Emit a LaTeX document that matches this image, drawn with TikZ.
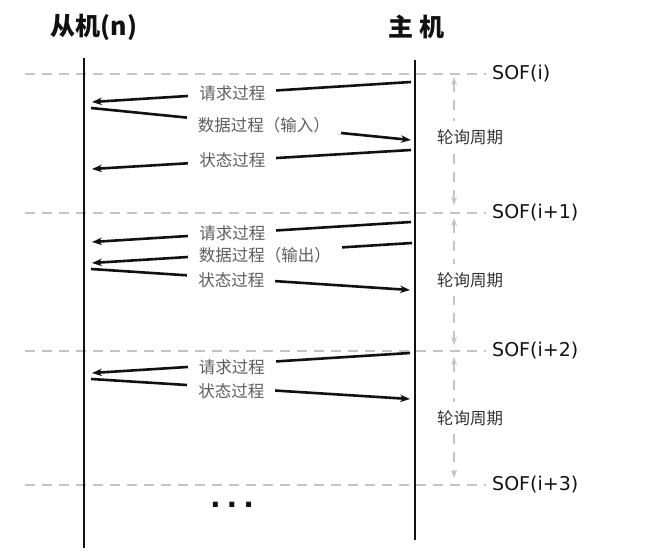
\documentclass[tikz,border=0pt]{standalone}
\usepackage{fontspec}
\usetikzlibrary{positioning, arrows.meta}
\setmainfont{Noto Sans CJK SC}
\newfontfamily\latin{DejaVu Sans}
\definecolor{ink}{HTML}{111111}
\definecolor{muted}{HTML}{5E5E5E}
\definecolor{linegray}{HTML}{C4C4C4}
\tikzset{
  head/.style={font=\bfseries\fontsize{25}{28}\selectfont, text=ink, inner sep=0pt},
  life/.style={line width=2.4pt, color=ink},
  msg/.style={-{Stealth[length=10pt, width=7.5pt]}, line width=2.6pt, color=ink},
  lbl/.style={font=\fontsize{16.5}{18}\selectfont, text=muted, fill=white,
    inner xsep=11pt, inner ysep=1pt},
  sofl/.style={font=\latin\fontsize{19}{22}\selectfont, text=ink, anchor=west, inner sep=0pt},
  sofline/.style={dash pattern=on 10pt off 7pt, line width=2.4pt, color=linegray},
  per/.style={{Stealth[length=8pt, width=6pt]}-{Stealth[length=8pt, width=6pt]},
    dash pattern=on 10pt off 8pt, line width=1.8pt, color=linegray},
  perl/.style={font=\fontsize{16.5}{18}\selectfont, text=ink!85, fill=white, anchor=west,
    inner xsep=0pt, inner ysep=8pt},
}

\begin{document}
\begin{tikzpicture}[x=1pt, y=-1pt]
  \useasboundingbox (0,0) rectangle (662,559);
  % headers
  \node[head] (slave) at (94,27) {从机(n)};
  \node[head] (host) at (416,27) {主\hspace{6pt}机};
  % frame marks
  \foreach \y/\t [count=\i from 0] in {74/i, 213/i+1, 351/i+2, 485/i+3} {
    \node[sofl] (sof\i) at (492,\y) {SOF(\t)};
    \coordinate (sofs\i) at (25,\y);
    \draw[sofline, shorten >=6pt] (sofs\i) -- (sof\i.west);
  }
  % lifelines
  \coordinate (st) at (84,58); \coordinate (sb) at (84,548);
  \coordinate (ht) at (415,60); \coordinate (hb) at (415,540);
  \draw[life] (st) -- (sb); \draw[life] (ht) -- (hb);
  % polling periods
  \foreach \a/\b/\m [count=\i] in {77/205/137, 218/345/280, 357/478/418} {
    \coordinate (pa\i) at (454,\a); \coordinate (pb\i) at (454,\b);
    \draw[per] (pa\i) -- (pb\i);
    \node[perl] (per\i) at (437,\m) {轮询周期};
  }
  % cycle i
  \coordinate (h1) at (411,82); \coordinate (s1) at (92,102);
  \coordinate (s2) at (91,108); \coordinate (h2) at (411,140);
  \coordinate (h3) at (411,150); \coordinate (s3) at (92,169);
  \draw[msg] (h1) -- node[lbl, pos=.56] (q1) {请求过程} (s1);
  \draw[msg] (s2) -- node[lbl, pos=.54] (d1) {数据过程（输入）} (h2);
  \draw[msg] (h3) -- node[lbl, pos=.56] (z1) {状态过程} (s3);
  % cycle i+1
  \coordinate (h4) at (411,222); \coordinate (s4) at (92,242);
  \coordinate (h5) at (412,243); \coordinate (s5) at (92,263);
  \coordinate (s6) at (91,269); \coordinate (h6) at (410,290);
  \draw[msg] (h4) -- node[lbl, pos=.56] (q2) {请求过程} (s4);
  \draw[msg] (h5) -- node[lbl, pos=.46, yshift=-3pt] (d2) {数据过程（输出）} (s5);
  \draw[msg] (s6) -- node[lbl, pos=.44, yshift=-2pt] (z2) {状态过程} (h6);
  % cycle i+2
  \coordinate (h7) at (410,353); \coordinate (s7) at (92,373);
  \coordinate (s8) at (91,379); \coordinate (h8) at (410,399);
  \draw[msg] (h7) -- node[lbl, pos=.56, yshift=-3pt] (q3) {请求过程} (s7);
  \draw[msg] (s8) -- node[lbl, pos=.44, yshift=-3pt] (z3) {状态过程} (h8);
  \node[font=\latin\bfseries\fontsize{28}{28}\selectfont, text=ink] (more) at (232,505) {.\kern6pt.\kern6pt.};
\end{tikzpicture}
\end{document}
